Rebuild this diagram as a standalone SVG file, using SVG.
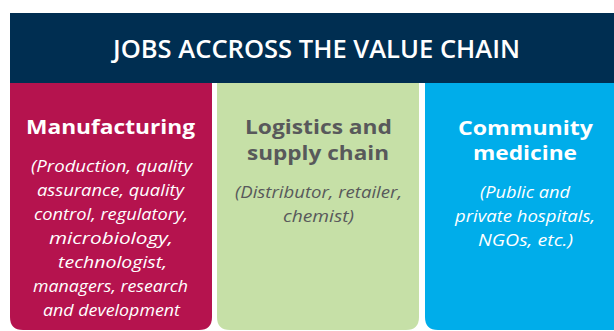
<svg xmlns="http://www.w3.org/2000/svg" width="614" height="331" viewBox="0 0 614 331">
  <style>
    .title { font-family: "Open Sans", "Liberation Sans", sans-serif; font-size: 25px; font-weight: 600; fill: #ffffff; text-anchor: middle; }
    .head { font-family: "Open Sans", "Liberation Sans", sans-serif; font-size: 20px; font-weight: bold; text-anchor: middle; }
    .sub { font-family: "Open Sans", "Liberation Sans", sans-serif; font-size: 17px; font-style: italic; text-anchor: middle; }
    .white { fill: #ffffff; }
    .gray { fill: #58595b; }
  </style>
  <rect x="0" y="0" width="614" height="331" fill="#ffffff"/>
  <g id="header">
    <rect x="10" y="13" width="604" height="70" fill="#002e51"/>
    <text class="title" x="316.5" y="58" textLength="407" lengthAdjust="spacingAndGlyphs">JOBS ACCROSS THE VALUE CHAIN</text>
  </g>
  <g id="manufacturing">
    <path d="M10 83 H212 V317 Q212 330 199 330 H23 Q10 330 10 317 Z" fill="#b5134e"/>
    <text class="head white" x="110.5" y="134" textLength="169" lengthAdjust="spacingAndGlyphs">Manufacturing</text>
    <text class="sub white" x="111.5" y="172" textLength="161" lengthAdjust="spacingAndGlyphs">(Production, quality</text>
    <text class="sub white" x="110.5" y="196" textLength="147" lengthAdjust="spacingAndGlyphs">assurance, quality</text>
    <text class="sub white" x="111" y="220" textLength="154" lengthAdjust="spacingAndGlyphs">control, regulatory,</text>
    <text class="sub white" x="111" y="244" textLength="124" lengthAdjust="spacingAndGlyphs">microbiology,</text>
    <text class="sub white" x="112.5" y="268" textLength="109" lengthAdjust="spacingAndGlyphs">technologist,</text>
    <text class="sub white" x="110.5" y="292" textLength="155" lengthAdjust="spacingAndGlyphs">managers, research</text>
    <text class="sub white" x="111.5" y="316" textLength="137" lengthAdjust="spacingAndGlyphs">and development</text>
  </g>
  <g id="logistics">
    <path d="M217 83 H419 V317 Q419 330 406 330 H230 Q217 330 217 317 Z" fill="#c6e0a7"/>
    <text class="head gray" x="318.5" y="134" textLength="147" lengthAdjust="spacingAndGlyphs">Logistics and</text>
    <text class="head gray" x="318" y="160" textLength="142" lengthAdjust="spacingAndGlyphs">supply chain</text>
    <text class="sub gray" x="318.5" y="198" textLength="167" lengthAdjust="spacingAndGlyphs">(Distributor, retailer,</text>
    <text class="sub gray" x="318.5" y="222" textLength="71" lengthAdjust="spacingAndGlyphs">chemist)</text>
  </g>
  <g id="community">
    <path d="M425 83 H620 V330 H438 Q425 330 425 317 Z" fill="#00adea"/>
    <text class="head white" x="525.5" y="135" textLength="135" lengthAdjust="spacingAndGlyphs">Community</text>
    <text class="head white" x="525" y="160" textLength="104" lengthAdjust="spacingAndGlyphs">medicine</text>
    <text class="sub white" x="525" y="198" textLength="90" lengthAdjust="spacingAndGlyphs">(Public and</text>
    <text class="sub white" x="525" y="222" textLength="140" lengthAdjust="spacingAndGlyphs">private hospitals,</text>
    <text class="sub white" x="525.5" y="246" textLength="95" lengthAdjust="spacingAndGlyphs">NGOs, etc.)</text>
  </g>
  <g id="connectors"></g>
</svg>
